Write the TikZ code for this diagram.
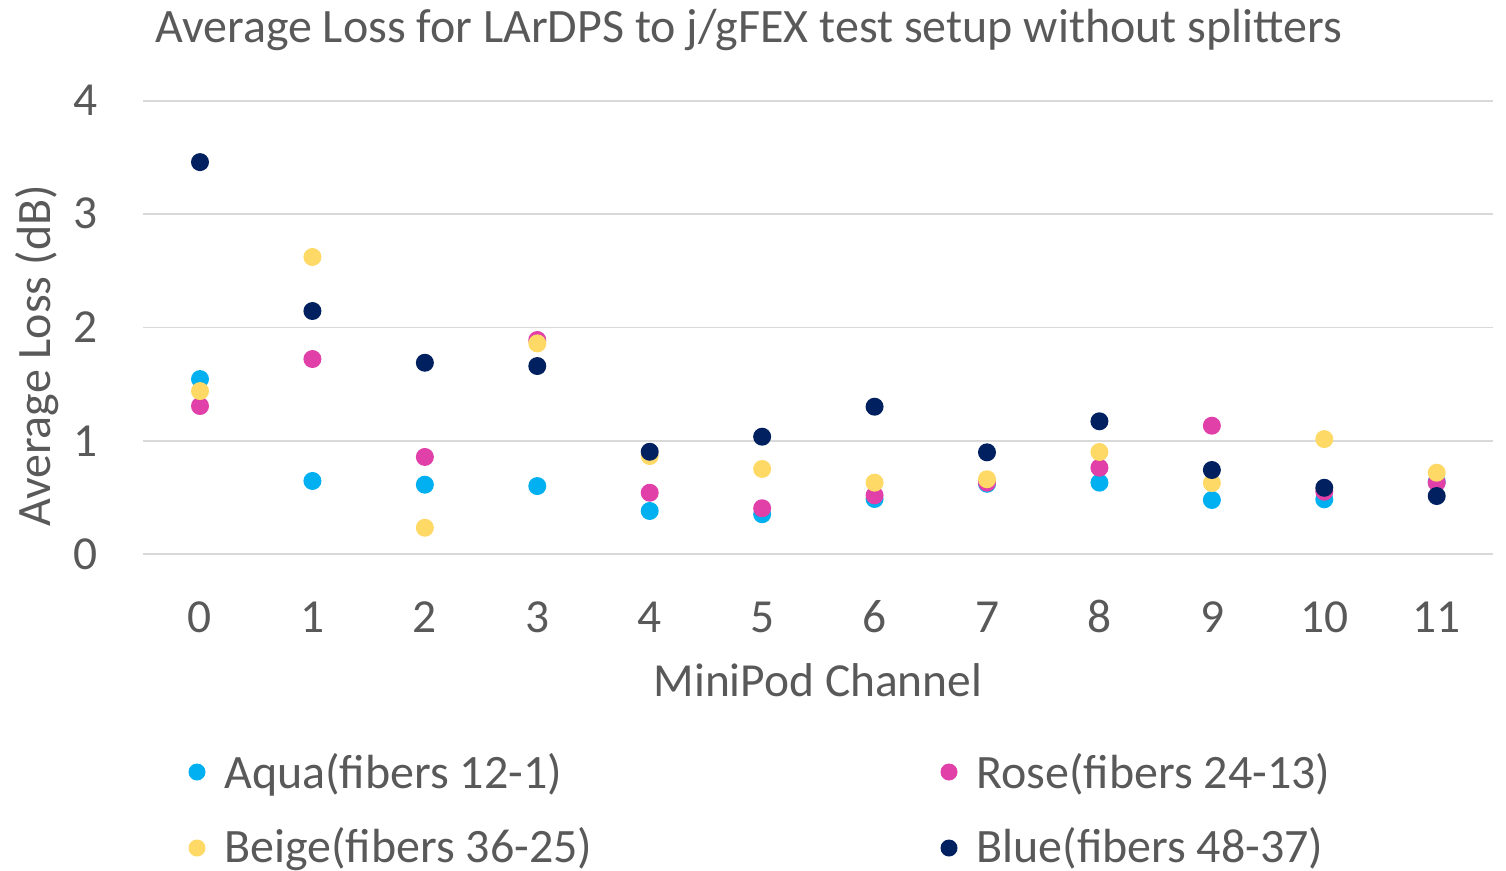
\documentclass[tikz,border=0pt]{standalone}
\usepackage{fontspec}
\setmainfont{Carlito}
\definecolor{txt}{HTML}{595959}
\definecolor{gridc}{HTML}{D9D9D9}
\definecolor{aqua}{HTML}{00B0F0}
\definecolor{rose}{HTML}{E040A8}
\definecolor{beige}{HTML}{FFD966}
\definecolor{navy}{HTML}{002060}
\tikzset{
  lbl/.style={text=txt, inner sep=0pt, font=\fontsize{27}{32}\selectfont},
  biglbl/.style={text=txt, inner sep=0pt, font=\fontsize{27.3}{32}\selectfont},
  gridline/.style={draw=gridc, line width=0.9pt},
  dot/.style={circle, inner sep=0pt, minimum size=0.36cm, fill=#1},
  keydot/.style={circle, inner sep=0pt, minimum size=0.34cm, fill=#1},
}
\begin{document}
\begin{tikzpicture}[x=0.02cm, y=-0.02cm]
\useasboundingbox[fill=white] (0,0) rectangle (1506,871);

% title
\node[biglbl, anchor=base west] (title) at (155,43) {Average Loss for LArDPS to j/gFEX test setup without splitters};

% horizontal grid and value labels
\foreach \v/\py in {0/554,1/441,2/327.5,3/214,4/101}{
  \coordinate (gl\v) at (143,\py);
  \coordinate (gr\v) at (1493,\py);
  \draw[gridline] (gl\v) -- (gr\v);
  \node[lbl, anchor=base east] (yt\v) at (98,\py+15) {\v};
}

% channel labels
\foreach \c in {0,...,11}{
  \node[lbl, anchor=base] (xt\c) at (200+112.45*\c,632) {\c};
}

% axis titles
\node[lbl, anchor=base] (xtitle) at (818,696) {MiniPod Channel};
\node[biglbl, anchor=base, rotate=90] (ytitle) at (50,356) {Average Loss (dB)};

% data: channel origin at (200,554), 112.45 px per channel, 113.25 px per dB
\begin{scope}[shift={(200,554)}, x=2.249cm, y=2.265cm]
  % Aqua (fibers 12-1)
  \foreach \c/\v [count=\i] in {0/1.545,1/0.645,2/0.612,3/0.600,4/0.380,5/0.351,6/0.486,7/0.620,8/0.630,9/0.477,10/0.483,11/0.638}
    \node[dot=aqua] (aq\i) at (\c,\v) {};
  % Rose (fibers 24-13)
  \foreach \c/\v [count=\i] in {0/1.307,1/1.722,2/0.857,3/1.890,4/0.541,5/0.404,6/0.518,7/0.630,8/0.762,9/1.133,10/0.550,11/0.630}
    \node[dot=rose] (ro\i) at (\c,\v) {};
  % Beige (fibers 36-25)
  \foreach \c/\v [count=\i] in {0/1.439,1/2.623,2/0.232,3/1.860,4/0.865,5/0.751,6/0.630,7/0.660,8/0.901,9/0.627,10/1.015,11/0.718}
    \node[dot=beige] (be\i) at (\c,\v) {};
  % Blue (fibers 48-37)
  \foreach \c/\v [count=\i] in {0/3.461,1/2.146,2/1.689,3/1.660,4/0.903,5/1.036,6/1.301,7/0.898,8/1.172,9/0.742,10/0.585,11/0.512}
    \node[dot=navy] (bl\i) at (\c,\v) {};
\end{scope}

% legend
\node[keydot=aqua] (kaq) at (197,772) {};
\node[biglbl, anchor=base west] (laq) at (224,788) {Aqua(fibers 12-1)};
\node[keydot=beige] (kbe) at (197,848) {};
\node[biglbl, anchor=base west] (lbe) at (224,862) {Beige(fibers 36-25)};
\node[keydot=rose] (kro) at (949,772) {};
\node[biglbl, anchor=base west] (lro) at (976,788) {Rose(fibers 24-13)};
\node[keydot=navy] (kbl) at (949,848) {};
\node[biglbl, anchor=base west] (lbl) at (976,862) {Blue(fibers 48-37)};
\end{tikzpicture}
\end{document}
